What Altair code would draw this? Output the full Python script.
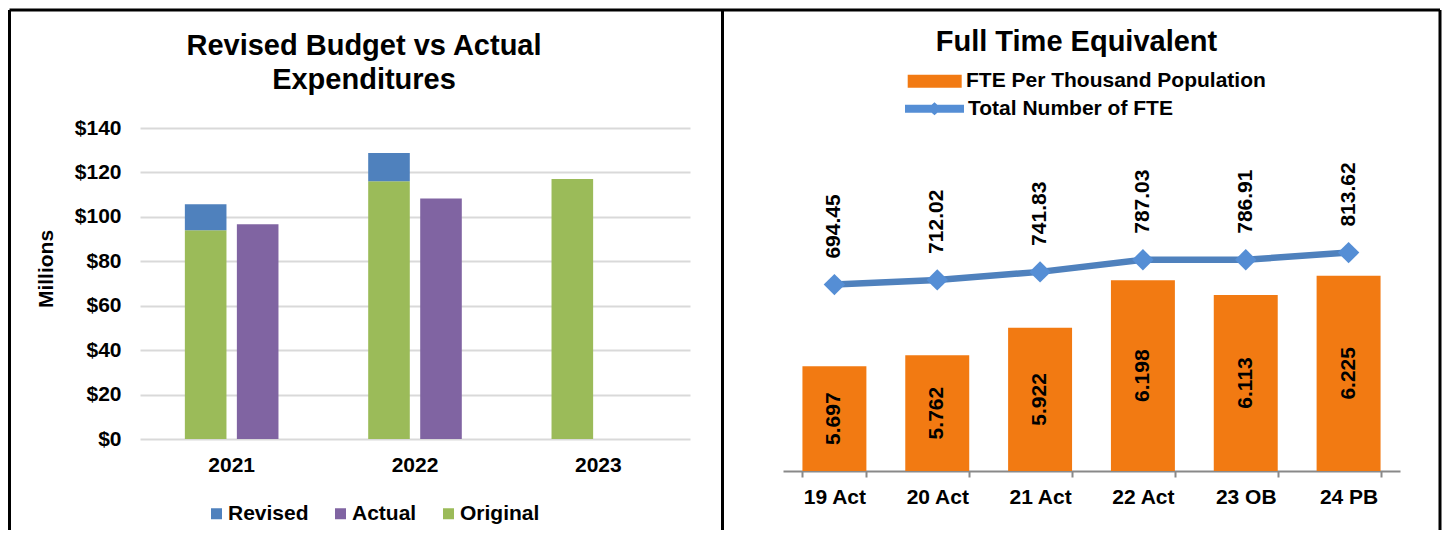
import altair as alt
import pandas as pd

FONT = "Liberation Sans"

# ---------------- Left panel data ----------------
years = ["2021", "2022", "2023"]
original = [94.0, 116.0, 117.0]
revised = [105.7, 128.7, None]
actual = [96.7, 108.3, None]
money_ticks = [0, 20, 40, 60, 80, 100, 120, 140]
budget_series = ["Revised", "Actual", "Original"]
budget_colors = ["#4F81BD", "#8064A2", "#9BBB59"]
left_title = ["Revised Budget vs Actual", "Expenditures"]

# ---------------- Right panel data ----------------
fte_cats = ["19 Act", "20 Act", "21 Act", "22 Act", "23 OB", "24 PB"]
fte_per_thousand = [5.697, 5.762, 5.922, 6.198, 6.113, 6.225]
fte_total = [694.45, 712.02, 741.83, 787.03, 786.91, 813.62]
bar_name = "FTE Per Thousand Population"
line_name = "Total Number of FTE"
right_title = "Full Time Equivalent"

# hidden Excel axis ranges
Y1 = [5.088, 7.0845]
Y2 = [0, 1277.9]

rows = []
for i, yr in enumerate(years):
    rows.append({"year": yr, "group": "Budget", "series": "Original", "lo": 0.0, "hi": original[i]})
    if revised[i] is not None:
        rows.append({"year": yr, "group": "Budget", "series": "Revised", "lo": original[i], "hi": revised[i]})
    if actual[i] is not None:
        rows.append({"year": yr, "group": "Actual", "series": "Actual", "lo": 0.0, "hi": actual[i]})
budget_df = pd.DataFrame(rows)

fte_df = pd.DataFrame({
    "cat": fte_cats,
    "per_thousand": fte_per_thousand,
    "total": fte_total,
    "bar_series": [bar_name] * len(fte_cats),
    "line_series": [line_name] * len(fte_cats),
})

deco = alt.Data(values=[{}])
FS = 21
label_style = dict(labelFont=FONT, labelFontSize=FS, labelFontWeight="bold", labelColor="black")

# ---------------- Left chart ----------------
x_left = alt.X("year:N", sort=years, title=None,
               scale=alt.Scale(paddingInner=0, paddingOuter=0),
               axis=alt.Axis(labelAngle=0, ticks=False, domain=False, labelPadding=15, grid=False, **label_style))
xoff = alt.XOffset("group:N", sort=["Budget", "Actual"],
                   scale=alt.Scale(domain=["Budget", "Actual"], paddingInner=0.2, paddingOuter=0.8625))
y_left = alt.Y("hi:Q", scale=alt.Scale(domain=[0, 140], nice=False),
               axis=alt.Axis(values=money_ticks, format="$.0f", grid=True, gridColor="#D9D9D9", gridWidth=2,
                             ticks=False, domain=False, labelPadding=19,
                             title="Millions", titleFont=FONT, titleFontSize=FS, titleFontWeight="bold",
                             titleColor="black", titleX=-88, titleY=140.5, titleAngle=270,
                             titleBaseline="alphabetic", titleAlign="center", **label_style))
color_left = alt.Color("series:N",
                       scale=alt.Scale(domain=budget_series, range=budget_colors),
                       legend=alt.Legend(title=None, orient="none", legendX=66, legendY=375,
                                         direction="horizontal", symbolType="square", symbolSize=121,
                                         symbolStrokeWidth=0, labelOffset=1, columnPadding=21, padding=0,
                                         labelLimit=400, **label_style))

bars_left = alt.Chart(budget_df).mark_bar().encode(
    x=x_left, xOffset=xoff, y=y_left, y2="lo:Q", color=color_left)

title_left_mark = alt.Chart(deco).mark_text(
    font=FONT, fontSize=29, fontWeight="bold", color="black", align="center",
    baseline="alphabetic", lineHeight=34, text=left_title
).encode(x=alt.value(224), y=alt.value(-73.5))


def vrule(xv):
    return alt.Chart(deco).mark_rule(color="black", strokeWidth=3).encode(
        x=alt.value(xv), y=alt.value(-118), y2=alt.value(402))


top_rule = alt.Chart(deco).mark_rule(color="black", strokeWidth=3).encode(
    x=alt.value(-130.5), x2=alt.value(1300), y=alt.value(-118))

left = alt.layer(bars_left, title_left_mark, top_rule, vrule(-130.5), vrule(582.5), vrule(1300)).properties(
    width=550, height=311)

# ---------------- Right chart ----------------
x_right = alt.X("cat:N", sort=fte_cats, title=None,
                scale=alt.Scale(paddingInner=0.378, paddingOuter=0.189),
                axis=alt.Axis(labelAngle=0, domainColor="#898989", domainWidth=2, tickColor="#898989",
                              tickWidth=2, tickSize=6, tickBand="extent", labelPadding=9, grid=False,
                              **label_style))
y1_scale = alt.Scale(domain=Y1, nice=False, zero=False)
y2_scale = alt.Scale(domain=Y2, nice=False)

base = alt.Chart(fte_df)

bars_r = base.mark_bar().encode(
    x=x_right,
    y=alt.Y("per_thousand:Q", scale=y1_scale, axis=None),
    y2=alt.datum(Y1[0]),
    color=alt.Color("bar_series:N", scale=alt.Scale(domain=[bar_name], range=["#F27A12"]),
                    legend=alt.Legend(title=None, orient="none", legendX=124.7, legendY=-73.8,
                                      symbolType="M-1,-0.24H1V0.24H-1Z", symbolSize=2916,
                                      symbolStrokeWidth=0, labelOffset=4.3, padding=0, labelLimit=600,
                                      **label_style)))

bar_labels = base.transform_calculate(mid=f"(datum.per_thousand + {Y1[0]}) / 2").mark_text(
    font=FONT, fontSize=FS, fontWeight="bold", color="black", angle=270, align="center", baseline="middle"
).encode(x=x_right, y=alt.Y("mid:Q", scale=y1_scale, axis=None),
         text=alt.Text("per_thousand:Q", format=".3f"))

line_r = base.mark_line(color="#4F81BD", strokeWidth=6.5).encode(
    x=x_right, y=alt.Y("total:Q", scale=y2_scale, axis=None))

line_sym = ("M-1,-0.136L-0.0955,-0.136L0,-0.22L0.0955,-0.136L1,-0.136L1,0.136"
            "L0.0955,0.136L0,0.22L-0.0955,0.136L-1,0.136Z")
points_r = base.mark_point(filled=True, shape="diamond", size=460, opacity=1).encode(
    x=x_right, y=alt.Y("total:Q", scale=y2_scale, axis=None),
    color=alt.Color("line_series:N", scale=alt.Scale(domain=[line_name], range=["#558ED5"]),
                    legend=alt.Legend(title=None, orient="none", legendX=122, legendY=-48.7,
                                      symbolType=line_sym, symbolSize=3481, symbolStrokeWidth=0,
                                      labelOffset=4, padding=0, labelLimit=600, **label_style)))

line_labels = base.mark_text(
    font=FONT, fontSize=FS, fontWeight="bold", color="black", angle=270, align="left",
    baseline="middle", dx=26
).encode(x=x_right, y=alt.Y("total:Q", scale=y2_scale, axis=None),
         text=alt.Text("total:Q", format=".2f"))

title_right_mark = alt.Chart(deco).mark_text(
    font=FONT, fontSize=29, fontWeight="bold", color="black", align="center",
    baseline="alphabetic", text=right_title
).encode(x=alt.value(293.5), y=alt.value(-77.5))

right = alt.layer(bars_r, bar_labels, line_r, points_r, line_labels, title_right_mark).resolve_scale(
    y="independent", color="independent").properties(width=617, height=343)

chart = alt.hconcat(left, right, spacing=93, bounds="flush").properties(
    padding=0, background="white"
).configure(font=FONT).configure_view(stroke="transparent", strokeWidth=0)

chart.save("out.html", embed_options={"renderer": "svg", "actions": False})
